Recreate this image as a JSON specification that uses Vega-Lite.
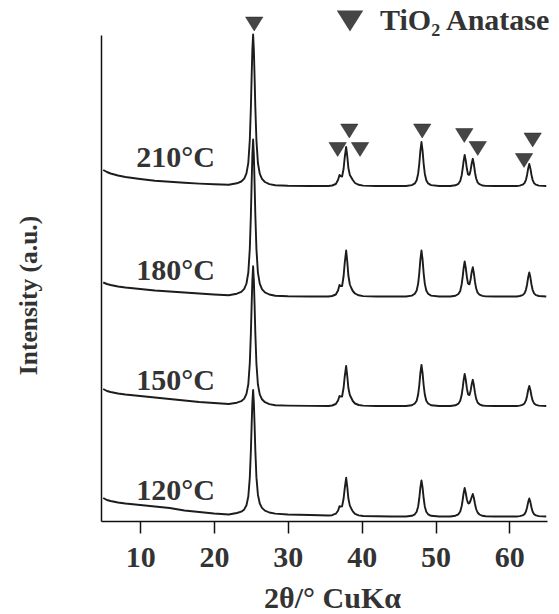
{
"$schema":"https://vega.github.io/schema/vega-lite/v6.json",
"width":446,"height":486,
"autosize":{"type":"none"},
"padding":{"left":101,"top":35,"right":12,"bottom":93},
"background":"white",
"config":{"view":{"stroke":null},"font":"Liberation Serif"},
"datasets":{
"xrd":[
{"temp":"210","x":5,"y":351},{"temp":"210","x":5.5,"y":349},{"temp":"210","x":6,"y":347.5},{"temp":"210","x":7,"y":345.5},{"temp":"210","x":8,"y":344},{"temp":"210","x":10,"y":342},{"temp":"210","x":12,"y":340.3},{"temp":"210","x":14,"y":339.2},{"temp":"210","x":16,"y":338.2},{"temp":"210","x":18,"y":337.4},{"temp":"210","x":20,"y":336.8},{"temp":"210","x":22,"y":336.2},
{"temp":"210","x":23.1,"y":337.7},{"temp":"210","x":23.7,"y":339.5},{"temp":"210","x":24.1,"y":342.4},{"temp":"210","x":24.4,"y":347.6},{"temp":"210","x":24.65,"y":358.2},{"temp":"210","x":24.85,"y":380.8},{"temp":"210","x":25.0,"y":414},{"temp":"210","x":25.1,"y":444.2},{"temp":"210","x":25.2,"y":471.4},{"temp":"210","x":25.3,"y":486.5},{"temp":"210","x":25.4,"y":471.3},{"temp":"210","x":25.5,"y":444},{"temp":"210","x":25.6,"y":413.8},{"temp":"210","x":25.75,"y":380.6},{"temp":"210","x":25.95,"y":358},{"temp":"210","x":26.2,"y":347.3},{"temp":"210","x":26.5,"y":342.1},{"temp":"210","x":26.9,"y":339},{"temp":"210","x":27.5,"y":336.9},{"temp":"210","x":28.3,"y":335.8},
{"temp":"210","x":30,"y":335.3},{"temp":"210","x":33,"y":335},{"temp":"210","x":35.5,"y":335},
{"temp":"210","x":36.0,"y":335.5},{"temp":"210","x":36.5,"y":337},{"temp":"210","x":36.8,"y":341},{"temp":"210","x":37.0,"y":346},{"temp":"210","x":37.15,"y":345},{"temp":"210","x":37.35,"y":344.5},{"temp":"210","x":37.55,"y":352},{"temp":"210","x":37.7,"y":363},{"temp":"210","x":37.9,"y":374},{"temp":"210","x":38.05,"y":365},{"temp":"210","x":38.2,"y":353},{"temp":"210","x":38.4,"y":346},{"temp":"210","x":38.6,"y":343.5},{"temp":"210","x":38.8,"y":341},{"temp":"210","x":39.1,"y":338},{"temp":"210","x":39.6,"y":336.2},{"temp":"210","x":40.2,"y":335.4},
{"temp":"210","x":42,"y":335},{"temp":"210","x":44,"y":335},{"temp":"210","x":46,"y":335},
{"temp":"210","x":46.8,"y":335.9},{"temp":"210","x":47.2,"y":337.6},{"temp":"210","x":47.45,"y":340.7},{"temp":"210","x":47.65,"y":347.3},{"temp":"210","x":47.8,"y":357},{"temp":"210","x":47.95,"y":370.2},{"temp":"210","x":48.1,"y":379},{"temp":"210","x":48.25,"y":370.2},{"temp":"210","x":48.4,"y":357},{"temp":"210","x":48.55,"y":347.3},{"temp":"210","x":48.75,"y":340.7},{"temp":"210","x":49.0,"y":337.6},{"temp":"210","x":49.4,"y":335.9},
{"temp":"210","x":50.5,"y":335},{"temp":"210","x":52,"y":335},
{"temp":"210","x":52.7,"y":335.7},{"temp":"210","x":53.1,"y":337.2},{"temp":"210","x":53.35,"y":340},{"temp":"210","x":53.55,"y":345.8},{"temp":"210","x":53.7,"y":353.5},{"temp":"210","x":53.8,"y":359.6},{"temp":"210","x":53.95,"y":366},{"temp":"210","x":54.1,"y":360.4},{"temp":"210","x":54.25,"y":352.2},{"temp":"210","x":54.4,"y":346.8},{"temp":"210","x":54.5,"y":346.2},{"temp":"210","x":54.6,"y":346.2},{"temp":"210","x":54.75,"y":350.6},{"temp":"210","x":54.9,"y":357.5},{"temp":"210","x":55.05,"y":362.2},{"temp":"210","x":55.2,"y":356.5},{"temp":"210","x":55.35,"y":348.5},{"temp":"210","x":55.5,"y":342.7},{"temp":"210","x":55.7,"y":338.6},{"temp":"210","x":55.95,"y":336.8},{"temp":"210","x":56.35,"y":335.5},{"temp":"210","x":56.8,"y":335.1},
{"temp":"210","x":58,"y":335},{"temp":"210","x":60,"y":335},{"temp":"210","x":61,"y":335},
{"temp":"210","x":61.4,"y":335.4},{"temp":"210","x":61.8,"y":336.3},{"temp":"210","x":62.05,"y":337.9},{"temp":"210","x":62.25,"y":341.2},{"temp":"210","x":62.4,"y":346},{"temp":"210","x":62.55,"y":352.6},{"temp":"210","x":62.7,"y":357},{"temp":"210","x":62.85,"y":352.6},{"temp":"210","x":63.0,"y":346},{"temp":"210","x":63.15,"y":341.2},{"temp":"210","x":63.35,"y":337.9},{"temp":"210","x":63.6,"y":336.3},{"temp":"210","x":64.0,"y":335.4},{"temp":"210","x":65,"y":335},

{"temp":"180","x":5,"y":238.5},{"temp":"180","x":5.5,"y":237},{"temp":"180","x":6,"y":236},{"temp":"180","x":7,"y":234.5},{"temp":"180","x":8,"y":233.5},{"temp":"180","x":10,"y":232},{"temp":"180","x":12,"y":230.5},{"temp":"180","x":14,"y":229.5},{"temp":"180","x":16,"y":228.5},{"temp":"180","x":18,"y":227.5},{"temp":"180","x":20,"y":226.5},{"temp":"180","x":22,"y":225.7},
{"temp":"180","x":23.1,"y":227.3},{"temp":"180","x":23.7,"y":229.1},{"temp":"180","x":24.1,"y":232.1},{"temp":"180","x":24.4,"y":237.5},{"temp":"180","x":24.65,"y":248.5},{"temp":"180","x":24.85,"y":272},{"temp":"180","x":25.0,"y":306.4},{"temp":"180","x":25.1,"y":337.7},{"temp":"180","x":25.2,"y":365.9},{"temp":"180","x":25.3,"y":381.5},{"temp":"180","x":25.4,"y":365.8},{"temp":"180","x":25.5,"y":337.6},{"temp":"180","x":25.6,"y":306.3},{"temp":"180","x":25.75,"y":271.9},{"temp":"180","x":25.95,"y":248.4},{"temp":"180","x":26.2,"y":237.3},{"temp":"180","x":26.5,"y":231.8},{"temp":"180","x":26.9,"y":228.6},{"temp":"180","x":27.5,"y":226.5},{"temp":"180","x":28.3,"y":225.3},
{"temp":"180","x":30,"y":224.8},{"temp":"180","x":33,"y":224.5},{"temp":"180","x":35.5,"y":224.5},
{"temp":"180","x":36.0,"y":225},{"temp":"180","x":36.5,"y":226.5},{"temp":"180","x":36.8,"y":230.5},{"temp":"180","x":37.0,"y":236},{"temp":"180","x":37.15,"y":235},{"temp":"180","x":37.35,"y":235},{"temp":"180","x":37.55,"y":244.5},{"temp":"180","x":37.7,"y":257.5},{"temp":"180","x":37.9,"y":270.5},{"temp":"180","x":38.05,"y":259.5},{"temp":"180","x":38.2,"y":245.5},{"temp":"180","x":38.4,"y":236.5},{"temp":"180","x":38.6,"y":233},{"temp":"180","x":38.8,"y":230},{"temp":"180","x":39.1,"y":227.5},{"temp":"180","x":39.6,"y":225.7},{"temp":"180","x":40.2,"y":224.9},
{"temp":"180","x":42,"y":224.5},{"temp":"180","x":44,"y":224.5},{"temp":"180","x":46,"y":224.5},
{"temp":"180","x":46.8,"y":225.4},{"temp":"180","x":47.2,"y":227.3},{"temp":"180","x":47.45,"y":230.5},{"temp":"180","x":47.65,"y":237.4},{"temp":"180","x":47.8,"y":247.5},{"temp":"180","x":47.95,"y":261.3},{"temp":"180","x":48.1,"y":270.5},{"temp":"180","x":48.25,"y":261.3},{"temp":"180","x":48.4,"y":247.5},{"temp":"180","x":48.55,"y":237.4},{"temp":"180","x":48.75,"y":230.5},{"temp":"180","x":49.0,"y":227.3},{"temp":"180","x":49.4,"y":225.4},
{"temp":"180","x":50.5,"y":224.5},{"temp":"180","x":52,"y":224.5},
{"temp":"180","x":52.7,"y":225.3},{"temp":"180","x":53.1,"y":227},{"temp":"180","x":53.35,"y":230.1},{"temp":"180","x":53.55,"y":236.8},{"temp":"180","x":53.7,"y":245.4},{"temp":"180","x":53.8,"y":252.3},{"temp":"180","x":53.95,"y":259.6},{"temp":"180","x":54.1,"y":253.2},{"temp":"180","x":54.25,"y":243.9},{"temp":"180","x":54.4,"y":237.6},{"temp":"180","x":54.5,"y":236.9},{"temp":"180","x":54.6,"y":236.7},{"temp":"180","x":54.75,"y":241.4},{"temp":"180","x":54.9,"y":248.8},{"temp":"180","x":55.05,"y":253.9},{"temp":"180","x":55.2,"y":247.7},{"temp":"180","x":55.35,"y":239.1},{"temp":"180","x":55.5,"y":232.7},{"temp":"180","x":55.7,"y":228.4},{"temp":"180","x":55.95,"y":226.4},{"temp":"180","x":56.35,"y":225.1},{"temp":"180","x":56.8,"y":224.6},
{"temp":"180","x":58,"y":224.5},{"temp":"180","x":60,"y":224.5},{"temp":"180","x":61,"y":224.5},
{"temp":"180","x":61.4,"y":225},{"temp":"180","x":61.8,"y":225.9},{"temp":"180","x":62.05,"y":227.6},{"temp":"180","x":62.25,"y":231.2},{"temp":"180","x":62.4,"y":236.5},{"temp":"180","x":62.55,"y":243.7},{"temp":"180","x":62.7,"y":248.5},{"temp":"180","x":62.85,"y":243.7},{"temp":"180","x":63.0,"y":236.5},{"temp":"180","x":63.15,"y":231.2},{"temp":"180","x":63.35,"y":227.6},{"temp":"180","x":63.6,"y":225.9},{"temp":"180","x":64.0,"y":225},{"temp":"180","x":65,"y":224.5},

{"temp":"150","x":5,"y":132},{"temp":"150","x":5.5,"y":130},{"temp":"150","x":6,"y":129},{"temp":"150","x":7,"y":127.5},{"temp":"150","x":8,"y":126.5},{"temp":"150","x":10,"y":125},{"temp":"150","x":12,"y":123.5},{"temp":"150","x":14,"y":122},{"temp":"150","x":16,"y":120.5},{"temp":"150","x":18,"y":119},{"temp":"150","x":20,"y":118},{"temp":"150","x":22,"y":117},
{"temp":"150","x":23.1,"y":118.3},{"temp":"150","x":23.7,"y":119.8},{"temp":"150","x":24.1,"y":122.4},{"temp":"150","x":24.4,"y":127.1},{"temp":"150","x":24.65,"y":136.8},{"temp":"150","x":24.85,"y":157.6},{"temp":"150","x":25.0,"y":188.1},{"temp":"150","x":25.1,"y":215.9},{"temp":"150","x":25.2,"y":240.9},{"temp":"150","x":25.3,"y":254.8},{"temp":"150","x":25.4,"y":240.8},{"temp":"150","x":25.5,"y":215.8},{"temp":"150","x":25.6,"y":188},{"temp":"150","x":25.75,"y":157.3},{"temp":"150","x":25.95,"y":136.5},{"temp":"150","x":26.2,"y":126.6},{"temp":"150","x":26.5,"y":121.7},{"temp":"150","x":26.9,"y":118.8},{"temp":"150","x":27.5,"y":116.9},{"temp":"150","x":28.3,"y":115.8},
{"temp":"150","x":30,"y":115.4},{"temp":"150","x":33,"y":115.1},{"temp":"150","x":35.5,"y":115},
{"temp":"150","x":36.0,"y":115.5},{"temp":"150","x":36.5,"y":117},{"temp":"150","x":36.8,"y":120.5},{"temp":"150","x":37.0,"y":125},{"temp":"150","x":37.15,"y":124.5},{"temp":"150","x":37.35,"y":124.5},{"temp":"150","x":37.55,"y":133},{"temp":"150","x":37.7,"y":144},{"temp":"150","x":37.9,"y":155},{"temp":"150","x":38.05,"y":145},{"temp":"150","x":38.2,"y":133},{"temp":"150","x":38.4,"y":126},{"temp":"150","x":38.6,"y":123},{"temp":"150","x":38.8,"y":120},{"temp":"150","x":39.1,"y":117.5},{"temp":"150","x":39.6,"y":116},{"temp":"150","x":40.2,"y":115.4},
{"temp":"150","x":42,"y":115},{"temp":"150","x":44,"y":115},{"temp":"150","x":46,"y":115},
{"temp":"150","x":46.8,"y":115.8},{"temp":"150","x":47.2,"y":117.5},{"temp":"150","x":47.45,"y":120.3},{"temp":"150","x":47.65,"y":126.5},{"temp":"150","x":47.8,"y":135.5},{"temp":"150","x":47.95,"y":147.8},{"temp":"150","x":48.1,"y":156},{"temp":"150","x":48.25,"y":147.8},{"temp":"150","x":48.4,"y":135.5},{"temp":"150","x":48.55,"y":126.5},{"temp":"150","x":48.75,"y":120.3},{"temp":"150","x":49.0,"y":117.5},{"temp":"150","x":49.4,"y":115.8},
{"temp":"150","x":50.5,"y":115},{"temp":"150","x":52,"y":115},
{"temp":"150","x":52.7,"y":115.7},{"temp":"150","x":53.1,"y":117.3},{"temp":"150","x":53.35,"y":120.2},{"temp":"150","x":53.55,"y":126.2},{"temp":"150","x":53.7,"y":134.1},{"temp":"150","x":53.8,"y":140.4},{"temp":"150","x":53.95,"y":147},{"temp":"150","x":54.1,"y":141.2},{"temp":"150","x":54.25,"y":132.6},{"temp":"150","x":54.4,"y":127},{"temp":"150","x":54.5,"y":126.2},{"temp":"150","x":54.6,"y":126},{"temp":"150","x":54.75,"y":130.1},{"temp":"150","x":54.9,"y":136.7},{"temp":"150","x":55.05,"y":141.2},{"temp":"150","x":55.2,"y":135.7},{"temp":"150","x":55.35,"y":128.1},{"temp":"150","x":55.5,"y":122.4},{"temp":"150","x":55.7,"y":118.5},{"temp":"150","x":55.95,"y":116.7},{"temp":"150","x":56.35,"y":115.5},{"temp":"150","x":56.8,"y":115.1},
{"temp":"150","x":58,"y":115},{"temp":"150","x":60,"y":115},{"temp":"150","x":61,"y":115},
{"temp":"150","x":61.4,"y":115.4},{"temp":"150","x":61.8,"y":116.2},{"temp":"150","x":62.05,"y":117.6},{"temp":"150","x":62.25,"y":120.6},{"temp":"150","x":62.4,"y":125},{"temp":"150","x":62.55,"y":131},{"temp":"150","x":62.7,"y":135},{"temp":"150","x":62.85,"y":131},{"temp":"150","x":63.0,"y":125},{"temp":"150","x":63.15,"y":120.6},{"temp":"150","x":63.35,"y":117.6},{"temp":"150","x":63.6,"y":116.2},{"temp":"150","x":64.0,"y":115.4},{"temp":"150","x":65,"y":115},

{"temp":"120","x":5,"y":23},{"temp":"120","x":5.5,"y":21},{"temp":"120","x":6,"y":20},{"temp":"120","x":7,"y":18.5},{"temp":"120","x":8,"y":17.5},{"temp":"120","x":10,"y":16},{"temp":"120","x":12,"y":14.5},{"temp":"120","x":14,"y":13},{"temp":"120","x":16,"y":10.5},{"temp":"120","x":18,"y":9},{"temp":"120","x":20,"y":7.5},{"temp":"120","x":22,"y":6.5},
{"temp":"120","x":23.1,"y":8},{"temp":"120","x":23.7,"y":9.3},{"temp":"120","x":24.1,"y":11.6},{"temp":"120","x":24.4,"y":15.8},{"temp":"120","x":24.65,"y":24.5},{"temp":"120","x":24.85,"y":43.3},{"temp":"120","x":25.0,"y":70.8},{"temp":"120","x":25.1,"y":95.9},{"temp":"120","x":25.2,"y":118.5},{"temp":"120","x":25.3,"y":131},{"temp":"120","x":25.4,"y":118.4},{"temp":"120","x":25.5,"y":95.8},{"temp":"120","x":25.6,"y":70.7},{"temp":"120","x":25.75,"y":43.6},{"temp":"120","x":25.95,"y":26.3},{"temp":"120","x":26.2,"y":17.5},{"temp":"120","x":26.5,"y":13.1},{"temp":"120","x":26.9,"y":10.4},{"temp":"120","x":27.5,"y":8.5},{"temp":"120","x":28.3,"y":7.4},
{"temp":"120","x":30,"y":6.5},{"temp":"120","x":33,"y":6},{"temp":"120","x":35.5,"y":5.5},
{"temp":"120","x":36.0,"y":5.8},{"temp":"120","x":36.5,"y":7.3},{"temp":"120","x":36.8,"y":10.3},{"temp":"120","x":37.0,"y":14.8},{"temp":"120","x":37.15,"y":14.3},{"temp":"120","x":37.35,"y":14.7},{"temp":"120","x":37.55,"y":22.2},{"temp":"120","x":37.7,"y":32.2},{"temp":"120","x":37.9,"y":43.2},{"temp":"120","x":38.05,"y":34.1},{"temp":"120","x":38.2,"y":22.5},{"temp":"120","x":38.4,"y":15.4},{"temp":"120","x":38.6,"y":12.3},{"temp":"120","x":38.8,"y":9.7},{"temp":"120","x":39.1,"y":7.1},{"temp":"120","x":39.6,"y":5.6},{"temp":"120","x":40.2,"y":5},
{"temp":"120","x":42,"y":4.7},{"temp":"120","x":44,"y":4.5},{"temp":"120","x":46,"y":4.5},
{"temp":"120","x":46.8,"y":5.2},{"temp":"120","x":47.2,"y":6.7},{"temp":"120","x":47.45,"y":9.2},{"temp":"120","x":47.65,"y":14.6},{"temp":"120","x":47.8,"y":22.5},{"temp":"120","x":47.95,"y":33.3},{"temp":"120","x":48.1,"y":40.5},{"temp":"120","x":48.25,"y":33.3},{"temp":"120","x":48.4,"y":22.5},{"temp":"120","x":48.55,"y":14.6},{"temp":"120","x":48.75,"y":9.2},{"temp":"120","x":49.0,"y":6.7},{"temp":"120","x":49.4,"y":5.2},
{"temp":"120","x":50.5,"y":4.5},{"temp":"120","x":52,"y":4.5},
{"temp":"120","x":52.7,"y":5.3},{"temp":"120","x":53.1,"y":6.7},{"temp":"120","x":53.35,"y":9.5},{"temp":"120","x":53.55,"y":15},{"temp":"120","x":53.7,"y":22},{"temp":"120","x":53.8,"y":27.5},{"temp":"120","x":53.95,"y":33},{"temp":"120","x":54.1,"y":28},{"temp":"120","x":54.25,"y":21.5},{"temp":"120","x":54.4,"y":18},{"temp":"120","x":54.5,"y":17.5},{"temp":"120","x":54.6,"y":18},{"temp":"120","x":54.75,"y":20.5},{"temp":"120","x":54.9,"y":24},{"temp":"120","x":55.05,"y":27},{"temp":"120","x":55.2,"y":23},{"temp":"120","x":55.35,"y":17},{"temp":"120","x":55.5,"y":12},{"temp":"120","x":55.7,"y":8.5},{"temp":"120","x":55.95,"y":6.5},{"temp":"120","x":56.35,"y":5.2},{"temp":"120","x":56.8,"y":4.7},
{"temp":"120","x":58,"y":4.5},{"temp":"120","x":60,"y":4.5},{"temp":"120","x":61,"y":4.5},
{"temp":"120","x":61.4,"y":4.9},{"temp":"120","x":61.8,"y":5.6},{"temp":"120","x":62.05,"y":6.8},{"temp":"120","x":62.25,"y":9.5},{"temp":"120","x":62.4,"y":13.5},{"temp":"120","x":62.55,"y":18.9},{"temp":"120","x":62.7,"y":22.5},{"temp":"120","x":62.85,"y":18.9},{"temp":"120","x":63.0,"y":13.5},{"temp":"120","x":63.15,"y":9.5},{"temp":"120","x":63.35,"y":6.8},{"temp":"120","x":63.6,"y":5.6},{"temp":"120","x":64.0,"y":4.9},{"temp":"120","x":65,"y":4.5}
],
"markers":[
{"phase":"TiO₂ Anatase","x":25.45,"y":497},
{"phase":"TiO₂ Anatase","x":36.75,"y":371.5},
{"phase":"TiO₂ Anatase","x":38.33,"y":390},
{"phase":"TiO₂ Anatase","x":39.78,"y":371.5},
{"phase":"TiO₂ Anatase","x":48.2,"y":390},
{"phase":"TiO₂ Anatase","x":53.9,"y":385.5},
{"phase":"TiO₂ Anatase","x":55.72,"y":372.5},
{"phase":"TiO₂ Anatase","x":61.99,"y":360.5},
{"phase":"TiO₂ Anatase","x":63.16,"y":381}
],
"labels":[
{"label":"210°C","x":14.8,"y":354},
{"label":"180°C","x":14.8,"y":241.5},
{"label":"150°C","x":14.8,"y":131},
{"label":"120°C","x":14.8,"y":21}
]
},
"layer":[
{"data":{"name":"xrd"},
 "mark":{"type":"line","stroke":"#1c1c1c","strokeWidth":1.9,"strokeJoin":"round"},
 "encoding":{
  "x":{"field":"x","type":"quantitative","scale":{"domain":[4.7,65.1],"nice":false,"zero":false},
   "axis":{"values":[10,20,30,40,50,60],"format":"d","grid":false,"domainColor":"#111","domainWidth":1.5,"tickColor":"#111","tickWidth":1.5,"tickSize":12,
    "labelFont":"Liberation Serif","labelFontWeight":"bold","labelFontSize":30,"labelColor":"#333","labelPadding":9,
    "title":"2θ/° CuKα","titleFont":"Liberation Serif","titleFontWeight":"bold","titleFontSize":30,"titleColor":"#333","titleBaseline":"alphabetic","titleX":231,"titleY":86}},
  "y":{"field":"y","type":"quantitative","scale":{"domain":[0,486],"nice":false,"zero":false},
   "axis":{"grid":false,"ticks":false,"labels":false,"domainColor":"#111","domainWidth":1.5,
    "title":"Intensity (a.u.)","titleFont":"Liberation Serif","titleFontWeight":"bold","titleFontSize":25.5,"titleColor":"#333","titleAngle":270,"titleBaseline":"alphabetic","titleAlign":"center","titleX":-65,"titleY":260}},
  "detail":{"field":"temp","type":"nominal"}
 }},
{"data":{"name":"markers"},
 "mark":{"type":"point","filled":true,"color":"#454545","stroke":"#222","strokeWidth":0.5,"opacity":1,"size":300},
 "encoding":{
  "x":{"field":"x","type":"quantitative"},
  "y":{"field":"y","type":"quantitative"},
  "shape":{"field":"phase","type":"nominal","scale":{"range":["M-1,-0.8L1,-0.8L0,0.8Z"]},
   "legend":{"title":null,"orient":"none","legendX":234,"legendY":-29,"padding":0,"symbolSize":700,"symbolFillColor":"#454545","symbolStrokeColor":"#222","symbolStrokeWidth":0.5,"symbolOpacity":1,
    "labelFont":"Liberation Serif","labelFontSize":30,"labelFontWeight":"bold","labelColor":"#333","labelOffset":15,"labelLimit":0}}
 }},
{"data":{"name":"labels"},
 "mark":{"type":"text","font":"Liberation Serif","fontWeight":"bold","fontSize":30,"fill":"#333","align":"center","baseline":"alphabetic"},
 "encoding":{
  "x":{"field":"x","type":"quantitative"},
  "y":{"field":"y","type":"quantitative"},
  "text":{"field":"label","type":"nominal"}
 }}
]
}
